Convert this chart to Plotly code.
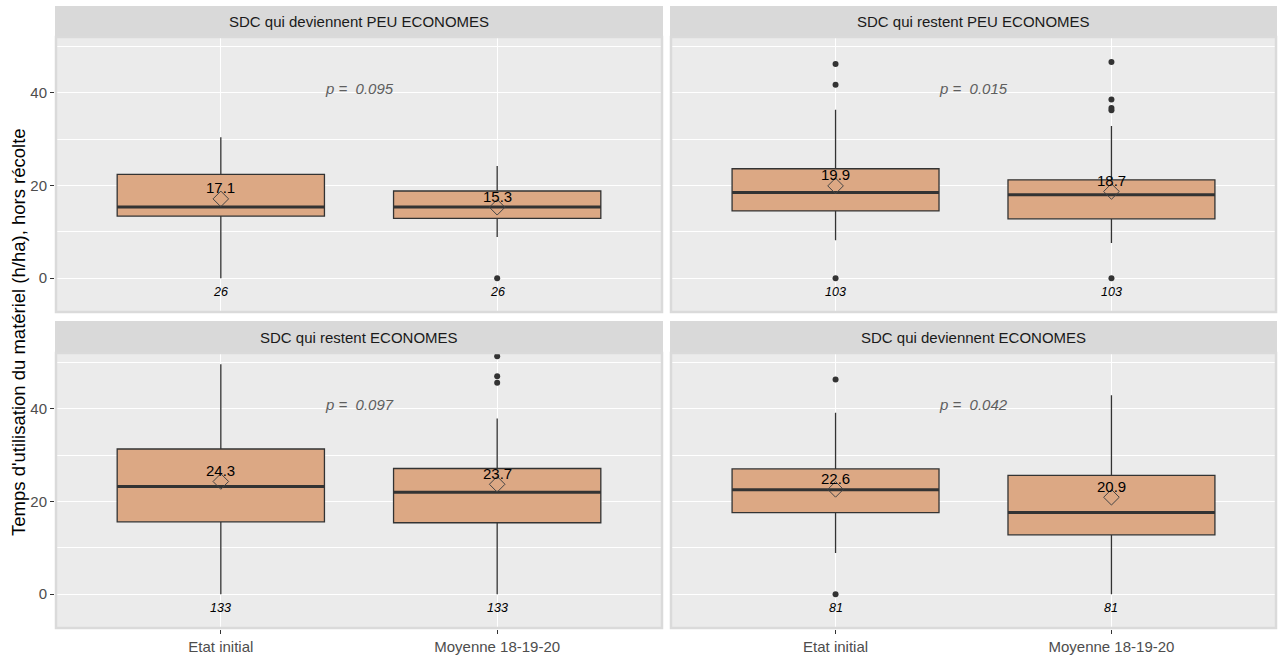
import plotly.graph_objects as go

# ---------------- data ----------------
panel_titles = [
    "SDC qui deviennent PEU ECONOMES",
    "SDC qui restent PEU ECONOMES",
    "SDC qui restent ECONOMES",
    "SDC qui deviennent ECONOMES",
]
categories = ["Etat initial", "Moyenne 18-19-20"]
cat_pos = [1, 2]

q1_vals = [[13.4, 12.9], [14.5, 12.8], [15.6, 15.4], [17.6, 12.8]]
median_vals = [[15.35, 15.35], [18.5, 18.0], [23.2, 22.0], [22.5, 17.6]]
q3_vals = [[22.4, 18.8], [23.6, 21.2], [31.3, 27.1], [27.0, 25.6]]
lower_whisker = [[0.0, 8.9], [8.2, 7.6], [0.0, 0.0], [8.9, 0.0]]
upper_whisker = [[30.4, 24.2], [36.3, 32.8], [49.6, 37.9], [39.1, 42.9]]
mean_vals = [[17.1, 15.3], [19.9, 18.7], [24.3, 23.7], [22.6, 20.9]]
outlier_vals = [
    [[], [0.0]],
    [[0.0, 41.7, 46.2], [0.0, 36.2, 36.7, 38.5, 46.6]],
    [[], [45.6, 47.0, 51.3]],
    [[0.0, 46.3], []],
]
n_obs = [26, 103, 133, 81]
p_values = ["0.095", "0.015", "0.097", "0.042"]
p_label_y = 41
y_ticks = [0, 20, 40]
y_title = "Temps d'utilisation du matériel (h/ha), hors récolte"

# ---------------- layout constants ----------------
W, H = 1279, 657
FONT = "Liberation Sans, Arial, sans-serif"
BOX_W = 0.75
FILL = "#DCA884"
DARK = "#333333"

panel_x_px = [(55, 663), (670, 1277)]
panel_y_px = [(37, 313), (353, 629)]
strip_y_px = [(6, 37), (321, 353)]


def fx(px):
    return px / W


def fy(py):
    return 1 - py / H


fig = go.Figure()
layout = dict(
    width=W, height=H,
    margin=dict(l=0, r=0, t=0, b=0),
    paper_bgcolor="white",
    plot_bgcolor="#EBEBEB",
    showlegend=False,
    font=dict(family=FONT),
    shapes=[], annotations=[],
)

for i in range(4):
    row, col = divmod(i, 2)
    sfx = "" if i == 0 else str(i + 1)
    xa, ya = "x" + sfx, "y" + sfx
    x0, x1 = panel_x_px[col]
    y0, y1 = panel_y_px[row]
    s0, s1 = strip_y_px[row]

    layout["xaxis" + sfx] = dict(
        domain=[fx(x0), fx(x1)], range=[0.4, 2.6], anchor=ya,
        tickvals=cat_pos, ticktext=categories,
        showticklabels=(row == 1), ticks="outside" if row == 1 else "",
        ticklen=4, tickcolor=DARK, tickwidth=1,
        tickfont=dict(size=15, color="#4D4D4D", family=FONT),
        showgrid=True, gridcolor="white", gridwidth=1.1,
        zeroline=False, showline=False, fixedrange=True,
    )
    layout["yaxis" + sfx] = dict(
        domain=[fy(y1), fy(y0)], range=[-7.5, 52.0], anchor=xa,
        tickvals=y_ticks,
        showticklabels=(col == 0), ticks="outside" if col == 0 else "",
        ticklen=4, tickcolor=DARK, tickwidth=1,
        tickfont=dict(size=15, color="#4D4D4D", family=FONT),
        showgrid=True, gridcolor="white", gridwidth=1.1,
        minor=dict(dtick=10, tick0=0, showgrid=True, gridcolor="white",
                   gridwidth=0.5, ticks=""),
        zeroline=False, showline=False, fixedrange=True,
    )

    # strip
    layout["shapes"].append(dict(
        type="rect", xref="paper", yref="paper",
        x0=fx(x0), x1=fx(x1), y0=fy(s1), y1=fy(s0),
        fillcolor="#D9D9D9", line=dict(width=0), layer="above"))
    layout["annotations"].append(dict(
        xref="paper", yref="paper", x=fx((x0 + x1) / 2), y=fy((s0 + s1) / 2),
        text=panel_titles[i], showarrow=False, xanchor="center", yanchor="middle",
        font=dict(size=15, color="#1A1A1A", family=FONT)))
    # panel border
    layout["shapes"].append(dict(
        type="rect", xref="paper", yref="paper",
        x0=fx(x0 + 1), x1=fx(x1 - 1), y0=fy(y1 - 1), y1=fy(y0),
        fillcolor="rgba(0,0,0,0)", line=dict(width=2.5, color="#DADADA"),
        layer="above"))

    # boxes
    fig.add_trace(go.Box(
        x=cat_pos, q1=q1_vals[i], median=median_vals[i], q3=q3_vals[i],
        lowerfence=lower_whisker[i], upperfence=upper_whisker[i],
        width=BOX_W, fillcolor=FILL, line=dict(color=DARK, width=1.3),
        whiskerwidth=0, boxpoints=False, xaxis=xa, yaxis=ya,
        hoverinfo="skip"))

    # thick median lines
    mx, my = [], []
    for p, m in zip(cat_pos, median_vals[i]):
        mx += [p - BOX_W / 2, p + BOX_W / 2, None]
        my += [m, m, None]
    fig.add_trace(go.Scatter(x=mx, y=my, mode="lines",
                             line=dict(color=DARK, width=3),
                             xaxis=xa, yaxis=ya, hoverinfo="skip"))

    # outliers
    ox, oy = [], []
    for p, vals in zip(cat_pos, outlier_vals[i]):
        ox += [p] * len(vals)
        oy += vals
    fig.add_trace(go.Scatter(x=ox, y=oy, mode="markers",
                             marker=dict(color=DARK, size=6),
                             xaxis=xa, yaxis=ya, hoverinfo="skip"))

    # means
    fig.add_trace(go.Scatter(x=cat_pos, y=mean_vals[i], mode="markers",
                             marker=dict(symbol="diamond-open", size=12,
                                         color="#444444", line=dict(width=1)),
                             xaxis=xa, yaxis=ya, hoverinfo="skip"))
    for p, m in zip(cat_pos, mean_vals[i]):
        layout["annotations"].append(dict(
            xref=xa, yref=ya, x=p, y=m, yshift=11, text=f"{m:.1f}",
            showarrow=False, xanchor="center", yanchor="middle",
            font=dict(size=15, color="black", family=FONT)))
        layout["annotations"].append(dict(
            xref=xa, yref=ya, x=p, y=0, yshift=-13.5,
            text=f"<i>{n_obs[i]}</i>",
            showarrow=False, xanchor="center", yanchor="middle",
            font=dict(size=12.5, color="black", family=FONT)))

    # p-value
    layout["annotations"].append(dict(
        xref=xa, yref=ya, x=sum(cat_pos) / 2, y=p_label_y,
        text=f"<i>p =&nbsp; {p_values[i]}</i>",
        showarrow=False, xanchor="center", yanchor="middle",
        font=dict(size=15, color="#5E5E5E", family=FONT)))

# y axis title
layout["annotations"].append(dict(
    xref="paper", yref="paper", x=fx(18), y=fy(332), text=y_title,
    textangle=-90, showarrow=False, xanchor="center", yanchor="middle",
    font=dict(size=18.5, color="black", family=FONT)))

fig.update_layout(**layout)
fig.write_html(
    "out.html",
    config={"displayModeBar": False},
    post_script="document.body.style.margin='0';document.body.style.overflow='hidden';",
)
